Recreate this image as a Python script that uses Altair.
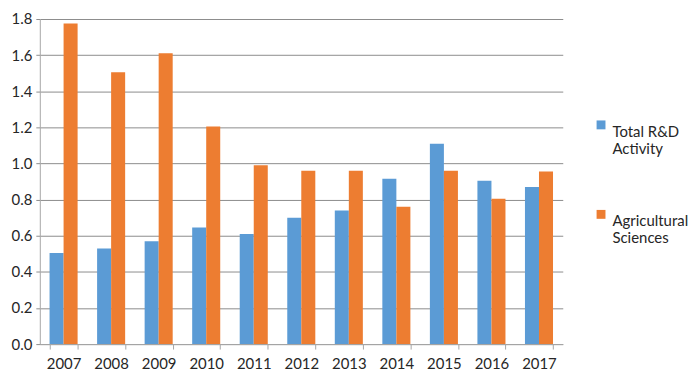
import altair as alt
import pandas as pd

years = ["2007", "2008", "2009", "2010", "2011", "2012", "2013", "2014", "2015", "2016", "2017"]
total_rd = [0.505, 0.53, 0.57, 0.645, 0.61, 0.70, 0.74, 0.915, 1.11, 0.905, 0.87]
agri = [1.775, 1.505, 1.61, 1.205, 0.99, 0.96, 0.96, 0.76, 0.96, 0.805, 0.955]
series = ["Total R&D Activity", "Agricultural Sciences"]
colors = ["#5B9BD5", "#ED7D31"]

rows = []
for i, y in enumerate(years):
    rows.append({"year": y, "series": series[0], "value": total_rd[i]})
    rows.append({"year": y, "series": series[1], "value": agri[i]})
df = pd.DataFrame(rows)

FONT = "Lato"

chart = alt.Chart(df).mark_bar().encode(
    x=alt.X("year:N", sort=years, title=None,
            scale=alt.Scale(paddingInner=0.41, paddingOuter=0.205),
            axis=alt.Axis(labelAngle=0, tickBand="extent", tickSize=5, tickColor="#A6A6A6",
                          domainColor="#A6A6A6", labelPadding=8, labelFontSize=15,
                          labelColor="#262626", labelFont=FONT, grid=False)),
    xOffset=alt.XOffset("series:N", sort=series, scale=alt.Scale(paddingInner=0, paddingOuter=0)),
    y=alt.Y("value:Q", title=None,
            scale=alt.Scale(domain=[0, 1.8], nice=False),
            axis=alt.Axis(values=[0, 0.2, 0.4, 0.6, 0.8, 1.0, 1.2, 1.4, 1.6, 1.8], format=".1f",
                          tickSize=4, tickColor="#8C8C8C", domainColor="#A6A6A6",
                          gridColor="#8C8C8C", gridWidth=1, labelPadding=4,
                          labelFontSize=15, labelColor="#262626", labelFont=FONT)),
    color=alt.Color("series:N", sort=series,
                    scale=alt.Scale(domain=series, range=colors),
                    legend=alt.Legend(title=None, orient="none", legendX=557, legendY=99,
                                      symbolType="square", symbolSize=80, symbolStrokeWidth=0,
                                      labelFontSize=15, labelFont=FONT, labelColor="#262626",
                                      labelLimit=200, rowPadding=50, labelOffset=4,
                                      labelBaseline="top",
                                      labelExpr="datum.label == 'Total R&D Activity' ? ['Total R&D', 'Activity'] : ['Agricultural', 'Sciences']")),
).properties(
    width=526, height=327,
    autosize=alt.AutoSizeParams(type="none"),
    padding={"left": 32, "top": 10, "right": 130, "bottom": 30},
).configure_view(stroke=None).configure_bar(
    binSpacing=0
)

chart.save("out.html", embed_options={"renderer": "svg", "actions": False})
